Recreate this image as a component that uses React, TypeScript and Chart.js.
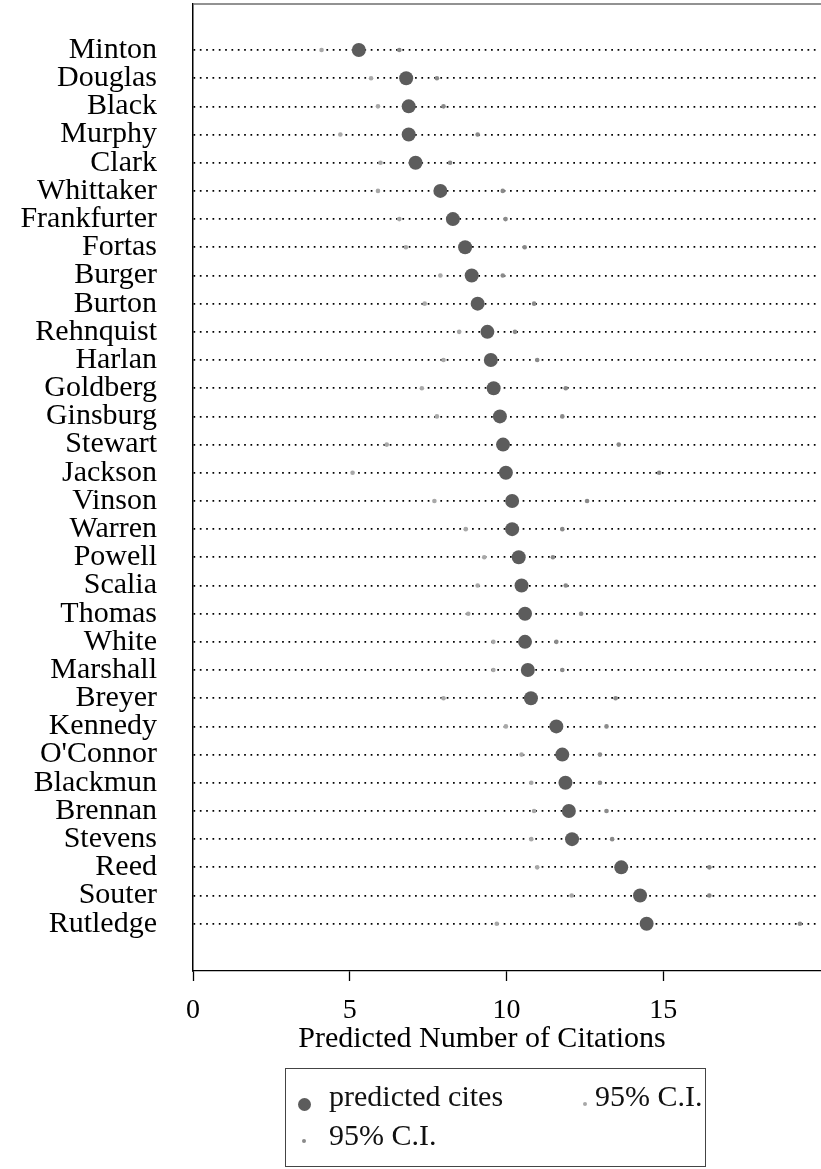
import React, { useEffect, useRef } from "react";
import { Chart, registerables } from "chart.js";

Chart.register(...registerables);

const justices = [
  "Minton", "Douglas", "Black", "Murphy", "Clark", "Whittaker", "Frankfurter", "Fortas",
  "Burger", "Burton", "Rehnquist", "Harlan", "Goldberg", "Ginsburg", "Stewart", "Jackson",
  "Vinson", "Warren", "Powell", "Scalia", "Thomas", "White", "Marshall", "Breyer",
  "Kennedy", "O'Connor", "Blackmun", "Brennan", "Stevens", "Reed", "Souter", "Rutledge",
];

const predictedCites = [
  5.29, 6.8, 6.88, 6.88, 7.1, 7.89, 8.29, 8.68, 8.89, 9.08, 9.39, 9.5, 9.59, 9.79, 9.89, 9.98,
  10.18, 10.18, 10.39, 10.48, 10.59, 10.59, 10.68, 10.78, 11.59, 11.78, 11.88, 11.99, 12.09, 13.66, 14.26, 14.47,
];

const ciLower = [
  4.1, 5.68, 5.9, 4.7, 5.98, 5.9, 6.58, 6.79, 7.89, 7.39, 8.49, 7.99, 7.3, 7.78, 6.18, 5.09,
  7.7, 8.7, 9.29, 9.08, 8.78, 9.58, 9.58, 7.99, 9.98, 10.48, 10.79, 10.88, 10.79, 10.98, 12.08, 9.69,
];

const ciUpper = [
  6.58, 7.78, 7.99, 9.08, 8.2, 9.88, 9.97, 10.58, 9.88, 10.88, 10.27, 10.98, 11.89, 11.78, 13.58, 14.87,
  12.57, 11.78, 11.48, 11.89, 12.38, 11.59, 11.78, 13.48, 13.19, 12.98, 12.98, 13.19, 13.37, 16.47, 16.47, 19.36,
];

const xTicks = [0, 5, 10, 15];

const xTitle = "Predicted Number of Citations";
const legendLabels = ["predicted cites", "95% C.I.", "95% C.I."];

const FONT = "'Liberation Serif', 'Times New Roman', serif";
const COL_PRED = "#5c5c5c";
const COL_LOW = "#a8a8a8";
const COL_HIGH = "#8a8a8a";

const topBorder = {
  id: "topBorder",
  afterDraw(chart: any) {
    const { ctx, chartArea } = chart;
    ctx.save();
    ctx.strokeStyle = "#6e6e6e";
    ctx.lineWidth = 1.3;
    ctx.beginPath();
    ctx.moveTo(chartArea.left, chartArea.top);
    ctx.lineTo(chartArea.right + 1, chartArea.top);
    ctx.stroke();
    ctx.restore();
  },
};

export default function App() {
  const ref = useRef<HTMLCanvasElement | null>(null);

  useEffect(() => {
    if (!ref.current) return;
    const toPts = (arr: number[]) => arr.map((v, i) => ({ x: v, y: i }));
    const chart = new Chart(ref.current, {
      type: "scatter",
      data: {
        datasets: [
          {
            label: legendLabels[1],
            data: toPts(ciLower),
            pointRadius: 2.3,
            pointBackgroundColor: COL_LOW,
            pointBorderWidth: 0,
            showLine: false,
          },
          {
            label: legendLabels[2],
            data: toPts(ciUpper),
            pointRadius: 2.3,
            pointBackgroundColor: COL_HIGH,
            pointBorderWidth: 0,
            showLine: false,
          },
          {
            label: legendLabels[0],
            data: toPts(predictedCites),
            pointRadius: 7,
            pointBackgroundColor: COL_PRED,
            pointBorderWidth: 0,
            showLine: false,
          },
        ],
      },
      options: {
        responsive: false,
        animation: false,
        layout: { autoPadding: false, padding: { top: 4, right: 1, left: 0, bottom: 116 } },
        plugins: {
          legend: { display: false },
          tooltip: { enabled: false },
        },
        scales: {
          x: {
            type: "linear",
            min: 0,
            max: 20,
            afterBuildTicks: (scale: any) => {
              scale.ticks = xTicks.map((v) => ({ value: v }));
            },
            afterFit: (scale: any) => {
              scale.height = 82;
              scale.paddingLeft = 0;
              scale.paddingRight = 0;
            },
            grid: {
              drawOnChartArea: false,
              drawTicks: true,
              tickLength: 10,
              tickColor: "#000",
              tickWidth: 1.3,
            },
            border: { display: true, color: "#000", width: 1.3 },
            ticks: {
              color: "#000",
              padding: 16,
              font: { family: FONT, size: 28, lineHeight: 1 },
              maxRotation: 0,
            },
            title: { display: false },
          },
          y: {
            type: "linear",
            reverse: true,
            min: -1.632,
            max: 32.678,
            afterBuildTicks: (scale: any) => {
              scale.ticks = justices.map((_, i) => ({ value: i }));
            },
            afterFit: (scale: any) => {
              scale.width = 193;
              scale.paddingTop = 0;
              scale.paddingBottom = 0;
            },
            grid: {
              display: true,
              drawOnChartArea: true,
              drawTicks: false,
              color: "#000",
              lineWidth: 1.7,
            },
            border: { display: true, color: "#000", width: 1.5, dash: [1.7, 4.63] },
            ticks: {
              autoSkip: false,
              color: "#000",
              padding: 36,
              font: { family: FONT, size: 30, lineHeight: 1 },
              callback: (v: any) => justices[Number(v)] ?? "",
            },
          },
        },
      },
      plugins: [topBorder],
    });
    return () => chart.destroy();
  }, []);

  const textStyle: React.CSSProperties = {
    position: "absolute",
    fontFamily: FONT,
    fontSize: 30,
    lineHeight: "30px",
    color: "#111",
    whiteSpace: "nowrap",
  };
  const dot = (cx: number, cy: number, r: number, color: string): React.CSSProperties => ({
    position: "absolute",
    left: cx - r,
    top: cy - r,
    width: 2 * r,
    height: 2 * r,
    borderRadius: "50%",
    background: color,
  });

  return (
    <div style={{ position: "absolute", left: 0, top: 0, width: 821, height: 1169, background: "#fff" }}>
      <canvas ref={ref} width={821} height={1169} style={{ display: "block" }} />
      <div style={{ ...textStyle, left: 282, top: 1022, width: 400, textAlign: "center", color: "#000" }}>
        {xTitle}
      </div>
      <div
        style={{
          position: "absolute",
          left: 285,
          top: 1068,
          width: 421,
          height: 99,
          border: "1px solid #444",
          boxSizing: "border-box",
          background: "#fff",
        }}
      >
        <span style={dot(18, 35, 6.5, COL_PRED)} />
        <div style={{ ...textStyle, left: 43, top: 12 }}>{legendLabels[0]}</div>
        <span style={dot(299, 35, 2.3, COL_LOW)} />
        <div style={{ ...textStyle, left: 309, top: 12 }}>{legendLabels[1]}</div>
        <span style={dot(18, 72, 2.3, COL_HIGH)} />
        <div style={{ ...textStyle, left: 43, top: 51 }}>{legendLabels[2]}</div>
      </div>
    </div>
  );
}
